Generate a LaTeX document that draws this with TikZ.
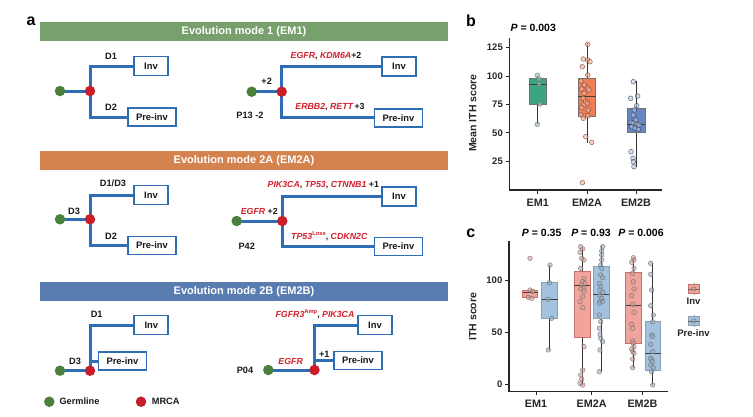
\documentclass[tikz,border=0pt]{standalone}
\usepackage{fontspec}
\setmainfont{Liberation Sans}
\usetikzlibrary{backgrounds}
\definecolor{treeblue}{HTML}{2F6DB5}
\definecolor{germ}{HTML}{4B7F3C}
\definecolor{mrca}{HTML}{C81E2A}
\definecolor{genered}{HTML}{D0202C}
\definecolor{hdrgreen}{HTML}{77A06C}
\definecolor{hdrorange}{HTML}{D4834F}
\definecolor{hdrblue}{HTML}{5A7DB1}
\definecolor{bEMone}{HTML}{3AA57E}
\definecolor{bEMtwoA}{HTML}{EE7E55}
\definecolor{bEMtwoB}{HTML}{6886C0}
\definecolor{cinv}{HTML}{F0A49B}
\definecolor{cinvd}{HTML}{C8706A}
\definecolor{cpre}{HTML}{A3C2DF}
\definecolor{cpred}{HTML}{8F9FB0}
\newcommand\gn[1]{\textcolor{genered}{\itshape #1}}
\newcommand\supx[1]{\raisebox{0.85ex}{\fontsize{5.8pt}{6pt}\selectfont #1}}
\tikzset{
  hdr/.style={rectangle, inner sep=0pt, text=white, minimum width=408, minimum height=19, font=\fontsize{11}{13}\selectfont\bfseries},
  gdot/.style={circle, fill=germ, inner sep=0pt, minimum size=10.5},
  mdot/.style={circle, fill=mrca, inner sep=0pt, minimum size=10.5},
  sbox/.style={rectangle, draw=treeblue, line width=1.8pt, fill=white, inner sep=0pt, font=\fontsize{9.4}{10}\selectfont\bfseries, text=black!90},
  invbox/.style={sbox, minimum width=34, minimum height=19},
  prebox/.style={sbox, minimum width=48, minimum height=18},
  branch/.style={draw=treeblue, line width=3pt, line join=miter},
  lbl/.style={inner sep=0pt, font=\fontsize{9.2}{10}\selectfont\bfseries, text=black!90},
  glbl/.style={inner sep=0pt, font=\fontsize{8.8}{10}\selectfont\bfseries, text=black!90},
  plet/.style={inner sep=0pt, font=\fontsize{16}{18}\selectfont\bfseries},
  axl/.style={inner sep=0pt, font=\fontsize{9.5}{11}\selectfont\bfseries, text=black!85},
  axt/.style={inner sep=0pt, font=\fontsize{10.5}{12}\selectfont\bfseries, text=black!85},
  xlab/.style={inner sep=0pt, font=\fontsize{10.8}{12}\selectfont\bfseries, text=black!85},
  pval/.style={inner sep=0pt, font=\fontsize{10.5}{12}\selectfont\bfseries},
  axis/.style={line width=1.5pt, black!85},
  tick/.style={line width=1pt, black!85},
  whisk/.style={line width=0.9pt, black!80},
  med/.style={line width=0.8pt, black!75},
  ptg/.style={fill=black!30!bEMone!50, fill opacity=0.6, draw=black!60, draw opacity=0.7, line width=0.5pt},
  pta/.style={fill=bEMtwoA!60, fill opacity=0.65, draw=black!55!bEMtwoA, draw opacity=0.7, line width=0.5pt},
  ptb/.style={fill=bEMtwoB!50, fill opacity=0.6, draw=black!60!bEMtwoB, draw opacity=0.7, line width=0.5pt},
  pti/.style={fill=cinv!80!gray, fill opacity=0.6, draw=black!60, draw opacity=0.7, line width=0.5pt},
  ptp/.style={fill=cpre!70!gray, fill opacity=0.6, draw=black!60, draw opacity=0.7, line width=0.5pt},
}
\begin{document}
\begin{tikzpicture}[x=1pt,y=-1pt]
\useasboundingbox (0,0) rectangle (753,416);
% ================= panel a =================
\node[plet] (la) at (31,21.5) {a};
\node[hdr, fill=hdrgreen] (h1) at (244,31.5) {Evolution mode 1 (EM1)};
\node[hdr, fill=hdrorange] (h2) at (244,160.5) {Evolution mode 2A (EM2A)};
\node[hdr, fill=hdrblue] (h3) at (244,291.5) {Evolution mode 2B (EM2B)};

% EM1 left
\node[gdot] (g1) at (60,91) {};
\node[mdot] (m1) at (90,91) {};
\node[invbox] (i1) at (151,66) {Inv};
\node[prebox] (p1) at (152,117) {Pre-inv};
\node[lbl] (d11) at (111,56) {D1};
\node[lbl] (d12) at (111,107) {D2};
% EM1 right
\node[gdot] (g2) at (251.7,91.7) {};
\node[mdot] (m2) at (281.7,91.7) {};
\node[invbox] (i2) at (399,66.7) {Inv};
\node[prebox] (p2) at (398.5,117.7) {Pre-inv};
\node[glbl] (t21) at (326,55.7) {\gn{EGFR}, \gn{KDM6A}+2};
\node[lbl] (t22) at (266.7,81.7) {+2};
\node[lbl] (t23) at (250,115) {P13 -2};
\node[glbl] (t24) at (330,107.3) {\gn{ERBB2}, \gn{RETT}\,+3};
% EM2A left
\node[gdot] (g3) at (60,219.3) {};
\node[mdot] (m3) at (90,219.3) {};
\node[invbox] (i3) at (151,195) {Inv};
\node[prebox] (p3) at (152,245.5) {Pre-inv};
\node[lbl] (d31) at (113,183.3) {D1/D3};
\node[lbl] (d32) at (111,236) {D2};
\node[lbl] (d33) at (74,211) {D3};
% EM2A right
\node[gdot] (g4) at (236.7,221) {};
\node[mdot] (m4) at (282.3,221) {};
\node[invbox] (i4) at (399,196.2) {Inv};
\node[prebox] (p4) at (398.5,246.5) {Pre-inv};
\node[glbl] (t41) at (323.3,185) {\gn{PIK3CA}, \gn{TP53}, \gn{CTNNB1} +1};
\node[glbl] (t42) at (259.3,211) {\gn{EGFR} +2};
\node[lbl] (t43) at (246.7,246) {P42};
\node[glbl] (t44) at (329.3,236.2) {\gn{TP53}\textcolor{genered}{\supx{Loss}}, \gn{CDKN2C}};
% EM2B left
\node[gdot] (g5) at (60,370.7) {};
\node[mdot] (m5) at (90,370.7) {};
\node[invbox] (i5) at (151.3,325) {Inv};
\node[prebox] (p5) at (122.5,361) {Pre-inv};
\node[lbl] (d51) at (96.7,314.3) {D1};
\node[lbl] (d53) at (75,361.7) {D3};
% EM2B right
\node[gdot] (g6) at (268.3,370) {};
\node[mdot] (m6) at (314.5,370) {};
\node[invbox] (i6) at (375,325) {Inv};
\node[prebox] (p6) at (358,360.5) {Pre-inv};
\node[glbl] (t61) at (315,313.8) {\gn{FGFR3}\textcolor{genered}{\supx{Amp}}, \gn{PIK3CA}};
\node[glbl] (t62) at (290.7,361.7) {\gn{EGFR}};
\node[lbl] (t63) at (324.3,354) {+1};
\node[lbl] (t64) at (245,370) {P04};
% legend
\node[gdot] (lg) at (49.3,401.7) {};
\node[lbl, anchor=west] (lgt) at (59.3,401.7) {Germline};
\node[mdot] (lm) at (141,401.7) {};
\node[lbl, anchor=west] (lmt) at (151.7,401.7) {MRCA};

\begin{scope}[on background layer]
\draw[branch] (g1.center) -- (m1.center);
\draw[branch] (i1.west) -| (m1.center) |- (p1.west);
\draw[branch] (g2.center) -- (m2.center);
\draw[branch] (i2.west) -| (m2.center) |- (p2.west);
\draw[branch] (g3.center) -- (m3.center);
\draw[branch] (i3.west) -| (m3.center) |- (p3.west);
\draw[branch] (g4.center) -- (m4.center);
\draw[branch] (i4.west) -| (m4.center) |- (p4.west);
\draw[branch] (g5.center) -- (m5.center);
\draw[branch] (i5.west) -| (m5.center);
\draw[branch] (m5.center |- p5.west) -- (p5.west);
\draw[branch] (g6.center) -- (m6.center);
\draw[branch] (i6.west) -| (m6.center);
\draw[branch] (m6.center |- p6.west) -- (p6.west);
\end{scope}

% ================= panel b =================
\node[plet] (lb) at (471,20.8) {b};
\node[pval] (pb) at (533.3,28.3) {\textit{P} = 0.003};
\draw[axis] (509.3,38) -- (509.3,190) -- (662,190);
\foreach \v/\y in {125/47.6,100/76,75/104.4,50/132.8,25/161.2}{
  \draw[tick] (505.5,\y) -- (509.3,\y);
  \node[axl, anchor=east] at (503,\y) {\v};
}
\node[axt, rotate=90] (ylb) at (472.7,113) {Mean ITH score};
\foreach \x/\t in {537.8/EM1,587/EM2A,636/EM2B}{
  \draw[tick] (\x,190) -- (\x,193.5);
  \node[xlab] at (\x,203) {\t};
}
% EM1 box
\draw[whisk] (537.8,76) -- (537.8,124.3);
\draw[fill=bEMone, draw=black!55, line width=0.6pt] (529,78.3) rectangle (546.7,104.3);
\draw[med] (529,84.3) -- (546.7,84.3);
\foreach \x/\y in {537.3/75.3,539/79,539.3/84,540/104,537.3/124.3}
  \draw[ptg] (\x,\y) circle (2.4);
% EM2A box
\draw[whisk] (587,43.3) -- (587,142.5);
\draw[fill=bEMtwoA, draw=black!55, line width=0.6pt] (578.3,78.7) rectangle (595.7,116.7);
\draw[med] (578.3,96.3) -- (595.7,96.3);
\foreach \x/\y in {587.7/44.3,583.3/59,587.7/60,590/61.7,582.3/66.7,587.7/75,581/81,584.3/85,587.7/88.3,581.7/89,589/90,584/93.3,583.3/98.3,585.7/101.7,584/105,587.3/103.3,581.7/107.7,588.3/110,581/115,585/116,587.7/116,583.3/118.3,585.7/136.7,591.7/142.3,582.3/182.7}
  \draw[pta] (\x,\y) circle (2.4);
% EM2B box
\draw[whisk] (636,80.5) -- (636,167);
\draw[fill=bEMtwoB, draw=black!55, line width=0.6pt] (627,108) rectangle (645,132.3);
\draw[med] (627,124.3) -- (645,124.3);
\foreach \x/\y in {633.3/81.7,630.7/98.3,637.7/96,636.7/105.7,634.3/110,633.3/115,635.7/120,631/122.3,633.3/123.3,636.7/124.3,639/125,631.7/126.7,635/128.3,638.3/129.3,631/151.7,633/158.3,633.3/161.7,634/166.7}
  \draw[ptb] (\x,\y) circle (2.4);

% ================= panel c =================
\node[plet] (lc) at (470.7,233.3) {c};
\node[pval] (pc1) at (541.7,232.7) {\textit{P} = 0.35};
\node[pval] (pc2) at (591,232.7) {\textit{P} = 0.93};
\node[pval] (pc3) at (641,232.7) {\textit{P} = 0.006};
\draw[axis] (509,240.7) -- (509,391.7) -- (668,391.7);
\foreach \v/\y in {100/280,50/332.3,0/384.3}{
  \draw[tick] (505.2,\y) -- (509,\y);
  \node[axl, anchor=east] at (502.5,\y) {\v};
}
\node[axt, rotate=90] (ylc) at (472.7,316.7) {ITH score};
\foreach \x/\t in {536/EM1,591.7/EM2A,642.5/EM2B}{
  \draw[tick] (\x,391.7) -- (\x,395.2);
  \node[xlab] at (\x,403.5) {\t};
}
% EM1 inv
\draw[fill=cinv, draw=cinvd, line width=0.7pt] (522.7,290.7) rectangle (537.7,297.7);
\draw[med] (522.7,292.3) -- (537.7,292.3);
\foreach \x/\y in {530/258.3,530/290,532.7/291.3,528.3/297.3,531.7/298.3}
  \draw[pti] (\x,\y) circle (2.3);
% EM1 pre
\draw[whisk] (549.7,265) -- (549.7,350);
\draw[fill=cpre, draw=cpred, line width=0.7pt] (541.7,282.7) rectangle (557.7,318.3);
\draw[med] (541.7,299.3) -- (557.7,299.3);
\foreach \x/\y in {550/265,549.3/282.7,548.3/299.3,551.7/318.3,548.3/350}
  \draw[ptp] (\x,\y) circle (2.3);
% EM2A inv
\draw[whisk] (582,246.5) -- (582,385);
\draw[fill=cinv, draw=cinvd, line width=0.7pt] (574,271) rectangle (590,337.3);
\draw[med] (574,285.3) -- (590,285.3);
\foreach \x/\y in {580.7/246.7,582.7/249,580/252.3,581.7/258.3,584/260,580.7/268.3,584/278.3,582.7/281.7,585/283.3,581.7/285,583.3/287.7,580.7/289,584/291,582.7/296.7,580/301.7,582.7/307.7,584/346.7,582.7/370,580.7/375,581.7/379,580/383.3,582.7/385}
  \draw[pti] (\x,\y) circle (2.3);
% EM2A pre
\draw[whisk] (601.3,246) -- (601.3,372);
\draw[fill=cpre, draw=cpred, line width=0.7pt] (593.3,266.7) rectangle (609.3,318.3);
\draw[med] (593.3,294.3) -- (609.3,294.3);
\foreach \x/\y in {602.7/246.7,601.7/251,601.7/255,601.7/260,600.7/265,601.7/268.3,600.7/275,602.7/277.7,599.3/283.3,600.7/286.7,600/290,602.7/292.3,599.3/295,601.7/298.3,600/301,602.7/301.7,599.3/303.3,599.3/315,600.7/321.7,599.3/328.3,600/334.3,600.7/338.3,602.7/341.7,600/350,599.3/371.7}
  \draw[ptp] (\x,\y) circle (2.3);
% EM2B inv
\draw[whisk] (633.5,257.5) -- (633.5,367.5);
\draw[fill=cinv, draw=cinvd, line width=0.7pt] (625.7,272.3) rectangle (641.3,343.3);
\draw[med] (625.7,305.7) -- (641.3,305.7);
\foreach \x/\y in {633.3/257.7,634/260,631.7/262.3,634/268.3,632.7/273.3,633.3/281.7,634/289,631.7/295.7,632.7/304.3,634/312.3,631.7/324.3,632.7/328.3,632.7/341,633.3/343.3,634/346.7,631.7/349,632.7/351.7,634/353.3,632.7/359,632.7/367.7}
  \draw[pti] (\x,\y) circle (2.3);
% EM2B pre
\draw[whisk] (652.8,263.3) -- (652.8,385);
\draw[fill=cpre, draw=cpred, line width=0.7pt] (645,321) rectangle (660.7,370);
\draw[med] (645,353) -- (660.7,353);
\foreach \x/\y in {650.7/263.3,650.7/274.3,651.7/290,650.7/305.7,653.3/315,652.7/321.7,651.7/335,652.7/336.7,650.7/344.3,652.7/351.7,650.7/358.3,651.7/360,652.7/361.7,650.7/365,653.3/367.7,651.7/371.7,652.7/385}
  \draw[ptp] (\x,\y) circle (2.3);
% legend c
\draw[line width=0.6pt, black!40] (693.8,282.7) -- (693.8,295.2);
\draw[fill=cinv, draw=cinvd, line width=0.6pt] (688.3,284.5) rectangle (699.3,293.3);
\draw[line width=0.5pt, black!60] (688.3,289) -- (699.3,289);
\draw[pti] (693.8,289) circle (2.2);
\node[axl] (lci) at (693.5,301.7) {Inv};
\draw[line width=0.6pt, black!40] (693.8,314.7) -- (693.8,327.2);
\draw[fill=cpre, draw=cpred, line width=0.6pt] (688.3,316.6) rectangle (699.3,325.4);
\draw[line width=0.5pt, black!60] (688.3,321) -- (699.3,321);
\draw[ptp] (693.8,321) circle (2.2);
\node[axl] (lcp) at (693.5,333.3) {Pre-inv};
\end{tikzpicture}
\end{document}
